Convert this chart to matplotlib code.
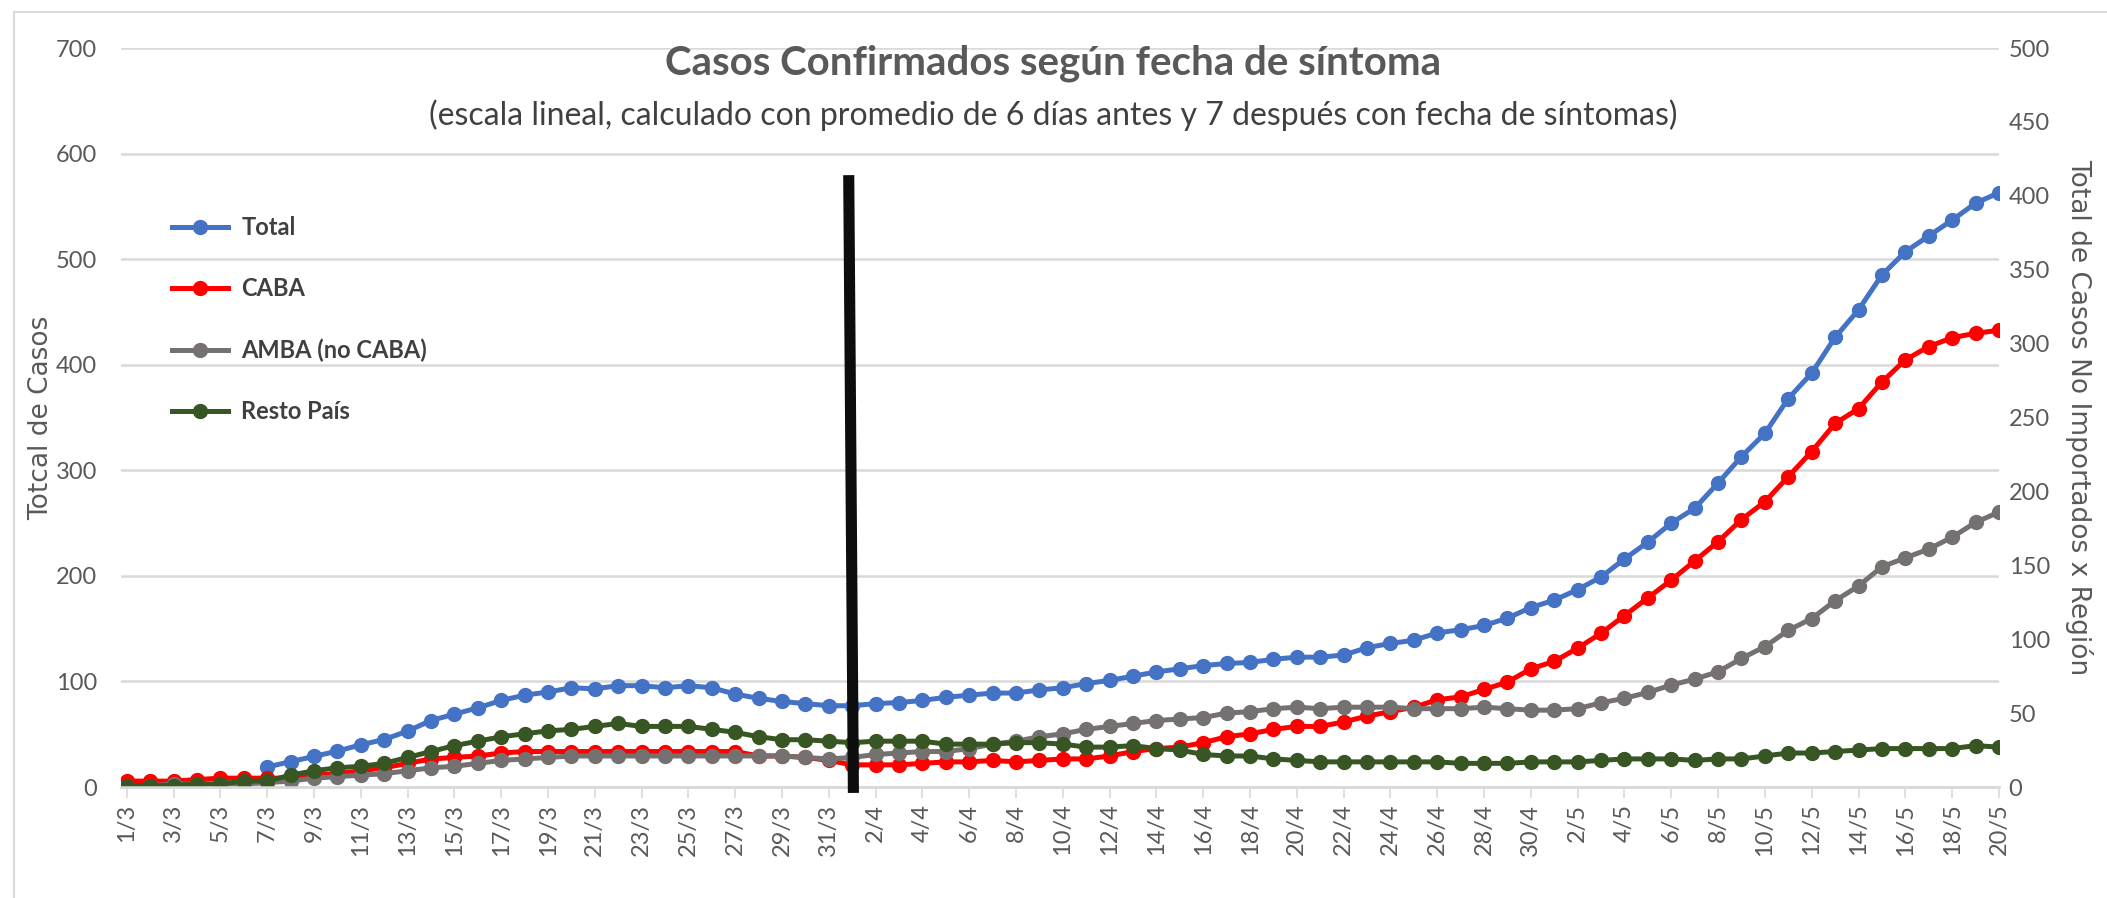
import pandas as pd
import matplotlib
matplotlib.use("Agg")
import matplotlib.pyplot as plt
from matplotlib.lines import Line2D

plt.rcParams['font.family'] = ['Lato', 'DejaVu Sans']

# -----------------------------------------------------
# Datos (1/3 al 20/5)
# -----------------------------------------------------
fechas = pd.date_range("2020-03-01", "2020-05-20", freq="D")
etiquetas = [f"{d.day}/{d.month}" for d in fechas]

nan = float("nan")

# eje izquierdo
total = [nan, nan, nan, nan, nan, nan, 19, 24, 29, 34,
         40, 45, 53, 63, 69, 75, 82, 87, 90, 94,
         93, 96, 96, 94, 96, 94, 88, 84, 81, 79,
         77, 77, 79, 80, 82, 85, 87, 89, 89, 92,
         94, 98, 101, 105, 109, 112, 115, 117, 118, 121,
         123, 123, 125, 132, 136, 139, 146, 149, 153, 160,
         170, 177, 187, 199, 216, 232, 250, 264, 288, 313,
         335, 368, 392, 426, 452, 485, 507, 522, 537, 553,
         563]

# eje derecho
caba = [4, 4, 4, 5, 6, 6, 6, 6, 8, 9,
        11, 13, 16, 19, 20, 21, 23, 24, 24, 24,
        24, 24, 24, 24, 24, 24, 24, 21, 21, 20,
        18, 15, 15, 15, 16, 17, 17, 18, 17, 18,
        19, 19, 21, 24, 26, 27, 30, 34, 36, 39,
        41, 41, 44, 48, 51, 54, 59, 61, 66, 71,
        80, 85, 94, 104, 116, 128, 140, 153, 166, 181,
        193, 210, 227, 246, 256, 274, 289, 298, 304, 307,
        309]

amba = [1, 1, 2, 2, 2, 2, 3, 4, 6, 7,
        8, 9, 11, 13, 14, 16, 18, 19, 20, 21,
        21, 21, 21, 21, 21, 21, 21, 21, 21, 20,
        19, 20, 22, 23, 24, 24, 26, 29, 31, 34,
        36, 39, 41, 43, 45, 46, 47, 50, 51, 53,
        54, 53, 54, 54, 54, 53, 53, 53, 54, 53,
        52, 52, 53, 57, 60, 64, 69, 73, 78, 87,
        95, 106, 114, 126, 136, 149, 155, 161, 169, 179,
        186]

resto = [1, 1, 1, 2, 2, 4, 4, 8, 11, 13,
         14, 16, 20, 24, 28, 31, 34, 36, 38, 39,
         41, 43, 41, 41, 41, 39, 37, 34, 32, 32,
         31, 30, 31, 31, 31, 29, 29, 29, 30, 30,
         29, 27, 27, 28, 26, 25, 22, 21, 21, 19,
         18, 17, 17, 17, 17, 17, 17, 16, 16, 16,
         17, 17, 17, 18, 19, 19, 19, 18, 19, 19,
         21, 23, 23, 24, 25, 26, 26, 26, 26, 28,
         27]

series_der = [("CABA", caba, "#FF0000"),
              ("AMBA (no CABA)", amba, "#767171"),
              ("Resto País", resto, "#375623")]

# linea vertical negra (eje derecho)
linea_x = [30.85, 31.05]
linea_y = [414, -4]

gris_texto = "#595959"
gris_oscuro = "#404040"
gris_grilla = "#D9D9D9"

# -----------------------------------------------------
# Grafico
# -----------------------------------------------------
fig = plt.figure(figsize=(21.07, 8.98), dpi=100)
ax = fig.add_axes([0.0574, 0.1236, 0.8913, 0.8229])
ax2 = ax.twinx()

x = list(range(len(etiquetas)))

ax.plot(x, total, color="#4472C4", lw=3.6, marker="o", ms=10, label="Total")
for nombre, valores, color in series_der:
    ax2.plot(x, valores, color=color, lw=3.6, marker="o", ms=10, label=nombre)

ax2.plot(linea_x, linea_y, color="#0D0D0D", lw=8, solid_capstyle="butt",
         clip_on=False, zorder=10)

ax.set_xlim(-0.25, 80)
ax.set_ylim(0, 700)
ax2.set_ylim(0, 500)
ax.set_yticks(range(0, 701, 100))
ax2.set_yticks(range(0, 501, 50))

ax.set_xticks(x[::2])
ax.set_xticklabels(etiquetas[::2], rotation=90)

ax.grid(axis="y", color=gris_grilla, lw=1.8)
ax.set_axisbelow(True)

for a in (ax, ax2):
    for s in ("top", "left", "right"):
        a.spines[s].set_visible(False)
    a.spines["bottom"].set_color(gris_grilla)
    a.spines["bottom"].set_linewidth(1.8)

ax.tick_params(axis="y", length=0, pad=17, labelsize=17, labelcolor=gris_texto)
ax2.tick_params(axis="y", length=0, pad=7, labelsize=17, labelcolor=gris_texto)
ax.tick_params(axis="x", length=8, width=1.2, color=gris_grilla, pad=4,
               labelsize=17, labelcolor=gris_texto)

ax.set_ylabel("Totcal de Casos", family="DejaVu Sans", fontsize=19,
              color=gris_texto, labelpad=1)
ax2.set_ylabel("Total de Casos No Importados x Región", family="DejaVu Sans",
               fontsize=19, color=gris_texto, rotation=-90, labelpad=31)

fig.text(0.5, 0.930, "Casos Confirmados según fecha de síntoma",
         ha="center", va="center", fontsize=29, fontweight="bold", color=gris_texto)
fig.text(0.5, 0.872, "(escala lineal, calculado con promedio de 6 días antes y 7 después con fecha de síntomas)",
         ha="center", va="center", fontsize=23, color=gris_oscuro)

h1, l1 = ax.get_legend_handles_labels()
h2, l2 = ax2.get_legend_handles_labels()
leg = ax2.legend(h1 + h2, l1 + l2, loc="upper left", bbox_to_anchor=(0.027, 0.773),
                 frameon=False, fontsize=17, labelspacing=1.62, handlelength=2.4,
                 handletextpad=0.55, borderpad=0, borderaxespad=0)
for t in leg.get_texts():
    t.set_fontweight("bold")
    t.set_color(gris_oscuro)

# borde del area del grafico
fig.add_artist(Line2D([14 / 2107, 1], [1 - 12 / 898, 1 - 12 / 898],
                      color=gris_grilla, lw=1.5))
fig.add_artist(Line2D([14 / 2107, 14 / 2107], [0, 1 - 12 / 898],
                      color=gris_grilla, lw=1.5))

fig.savefig("out.png", dpi=100)
plt.close(fig)
